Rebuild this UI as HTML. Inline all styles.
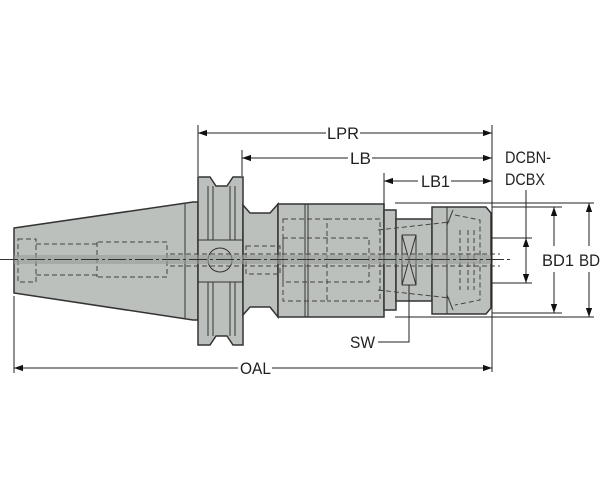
<!DOCTYPE html>
<html><head><style>
html,body{margin:0;padding:0;background:#fff;}
svg{display:block;}
text{font-family:"Liberation Sans",Arial,sans-serif;font-size:17px;fill:#222;}
</style></head><body>
<svg width="600" height="500" viewBox="0 0 600 500" xmlns="http://www.w3.org/2000/svg">
<defs>
<marker id="a" viewBox="0 0 10 10" refX="10" refY="5" markerWidth="9" markerHeight="9" orient="auto-start-reverse" markerUnits="userSpaceOnUse"><path d="M0,1.5 L10,5 L0,8.5z" fill="#111"/></marker>
</defs>
<g fill="#bcc0bc" stroke="#333" stroke-width="1.5">
<path d="M14,228 L193,202 L198,202 L198,320 L193,320 L14,293 Z"/>
<path d="M198,177 L210,177 L216,186 L227,186 L233,177 L243,177 L243,345 L233,345 L227,336 L216,336 L210,345 L198,345 Z"/>
<path d="M243,205 L250,213 L270,213 L278,204 L278,317 L270,307 L250,307 L243,315 Z"/>
<rect x="278" y="204" width="106" height="113"/>
<rect x="384" y="210" width="12" height="100"/>
<rect x="396" y="219" width="36" height="82"/>
<path d="M432,207 L486,207 L491,213 L491,308 L486,314 L432,314 Z"/>
</g>
<g fill="none" stroke="#333" stroke-width="1">
<line x1="185" y1="204" x2="185" y2="318"/>
<line x1="208" y1="186" x2="208" y2="240"/><line x1="213" y1="186" x2="213" y2="240"/><line x1="230" y1="186" x2="230" y2="240"/><line x1="235" y1="186" x2="235" y2="240"/>
<line x1="208" y1="282" x2="208" y2="336"/><line x1="213" y1="282" x2="213" y2="336"/><line x1="230" y1="282" x2="230" y2="336"/><line x1="235" y1="282" x2="235" y2="336"/>
<line x1="198" y1="240" x2="243" y2="240"/><line x1="198" y1="282" x2="243" y2="282"/>
<circle cx="220" cy="260" r="12"/>
<line x1="305" y1="204" x2="305" y2="317"/><line x1="308" y1="204" x2="308" y2="317"/>
<line x1="447" y1="207" x2="447" y2="314"/>
<path d="M453,210 L447,225 L447,295 L453,310"/>
<rect x="402" y="235" width="14" height="50"/>
<path d="M402,235 L416,285 M416,235 L402,285"/>
</g>
<g fill="none" stroke="#444" stroke-width="1" stroke-dasharray="5,3">
<rect x="18" y="239" width="18" height="43"/>
<path d="M36,244 H97 V242 H167 V277 H97 V275 H36"/>
<path d="M97,242 V277"/>
<rect x="246" y="246" width="34" height="28"/>
<rect x="283" y="219" width="44" height="82"/>
<rect x="283" y="238" width="86" height="44"/>
<path d="M327,219 H380 V301 H327"/>
<path d="M378,230 L450,222 M378,290 L450,298"/>
<path d="M455,215 L480,220 L480,300 L455,305"/>
<path d="M460,230 V290 M468,230 V290 M474,230 V290"/>
<path d="M170,254 H500 M170,266 H500"/>
</g>
<rect x="14" y="255" width="477" height="9" fill="#9a9d9a" opacity="0.6"/>
<line x1="0" y1="259.5" x2="510" y2="259.5" stroke="#333" stroke-width="1" stroke-dasharray="18,3,3,3"/>
<g stroke="#222" stroke-width="1" fill="none">
<line x1="198" y1="125" x2="198" y2="176"/>
<line x1="242" y1="150" x2="242" y2="176"/>
<line x1="384" y1="173" x2="384" y2="208"/>
<line x1="492" y1="125" x2="492" y2="372"/>
<line x1="14" y1="296" x2="14" y2="373"/>
<line x1="198" y1="133" x2="326" y2="133" marker-start="url(#a)"/><line x1="360" y1="133" x2="492" y2="133" marker-end="url(#a)"/>
<line x1="242" y1="158" x2="348" y2="158" marker-start="url(#a)"/><line x1="372" y1="158" x2="492" y2="158" marker-end="url(#a)"/>
<line x1="384" y1="181" x2="418" y2="181" marker-start="url(#a)"/><line x1="451" y1="181" x2="492" y2="181" marker-end="url(#a)"/>
<line x1="14" y1="368" x2="238" y2="368" marker-start="url(#a)"/><line x1="272" y1="368" x2="492" y2="368" marker-end="url(#a)"/>
<line x1="395" y1="203" x2="594" y2="203"/><line x1="395" y1="317" x2="594" y2="317"/>
<line x1="492" y1="207" x2="562" y2="207"/><line x1="492" y1="313" x2="562" y2="313"/>
<line x1="492" y1="238" x2="532" y2="238"/><line x1="492" y1="283" x2="532" y2="283"/>
<line x1="589" y1="203" x2="589" y2="246" marker-start="url(#a)"/><line x1="589" y1="272" x2="589" y2="317" marker-end="url(#a)"/>
<line x1="554" y1="207" x2="554" y2="246" marker-start="url(#a)"/><line x1="554" y1="272" x2="554" y2="313" marker-end="url(#a)"/>
<line x1="526" y1="190" x2="526" y2="238"/>
<line x1="526" y1="238" x2="526" y2="283" marker-start="url(#a)" marker-end="url(#a)"/>
<polyline points="378,342 409,342 409,285"/>
</g>
<text x="327" y="139" textLength="32" lengthAdjust="spacingAndGlyphs">LPR</text>
<text x="350" y="164" textLength="21" lengthAdjust="spacingAndGlyphs">LB</text>
<text x="421" y="187" textLength="29" lengthAdjust="spacingAndGlyphs">LB1</text>
<text x="240" y="374" textLength="31" lengthAdjust="spacingAndGlyphs">OAL</text>
<text x="350" y="348" textLength="25" lengthAdjust="spacingAndGlyphs">SW</text>
<text x="505" y="163" textLength="46" lengthAdjust="spacingAndGlyphs">DCBN-</text>
<text x="505" y="185" textLength="40" lengthAdjust="spacingAndGlyphs">DCBX</text>
<text x="542" y="266" textLength="32" lengthAdjust="spacingAndGlyphs">BD1</text>
<text x="579" y="266" textLength="21" lengthAdjust="spacingAndGlyphs">BD</text>
</svg>
</body></html>
